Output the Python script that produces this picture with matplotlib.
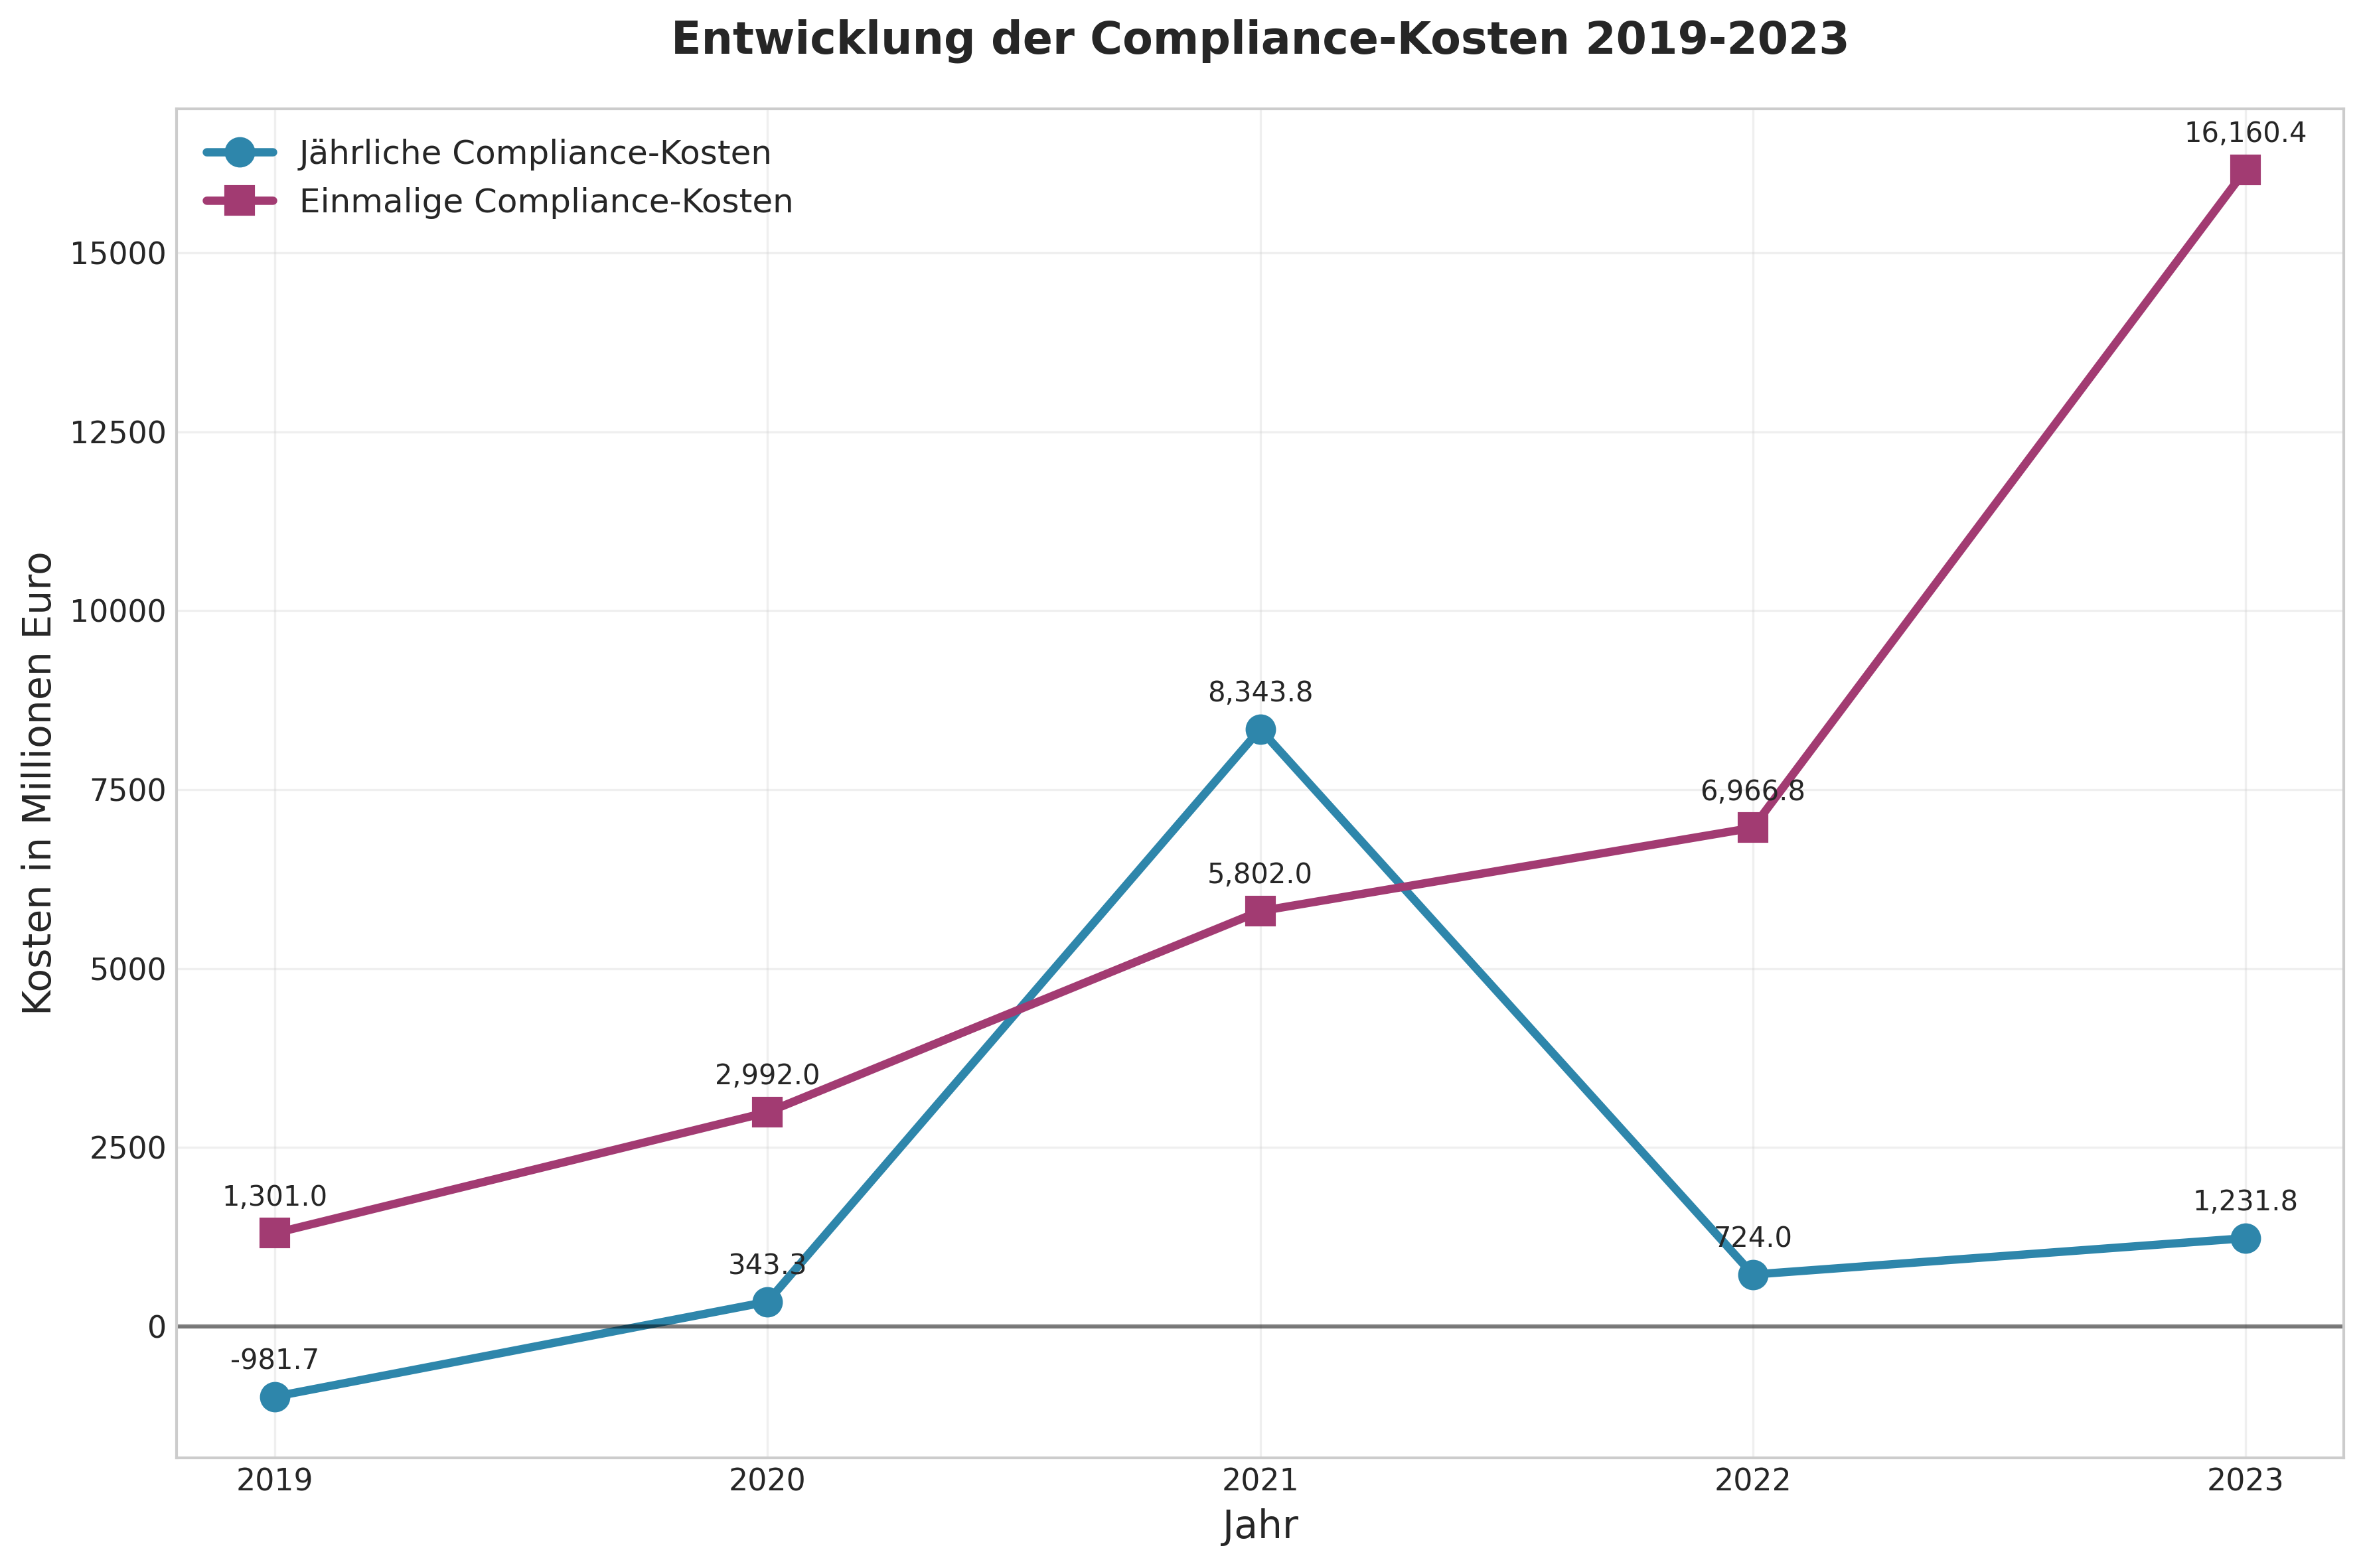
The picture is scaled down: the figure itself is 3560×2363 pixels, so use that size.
import numpy as np
import matplotlib
matplotlib.use('Agg')
from matplotlib import pyplot as plt

years = [2019, 2020, 2021, 2022, 2023]
jaehrlich = [-981.7, 343.3, 8343.8, 724.0, 1231.8]
einmalig = [1301.0, 2992.0, 5802.0, 6966.8, 16160.4]

plt.style.use('seaborn-v0_8-whitegrid')
plt.rcParams['font.family'] = ['DejaVu Sans']
fig, ax = plt.subplots(figsize=(3561/300, 2363/300), dpi=300)

ax.plot(years, jaehrlich, color='#2E86AB', marker='o', linewidth=3, markersize=10,
        label='Jährliche Compliance-Kosten')
ax.plot(years, einmalig, color='#A23B72', marker='s', linewidth=3, markersize=10,
        label='Einmalige Compliance-Kosten')

for x, y in zip(years, jaehrlich):
    ax.annotate(f'{y:,.1f}', (x, y), textcoords='offset points', xytext=(0, 10),
                ha='center', fontsize=10)
for x, y in zip(years, einmalig):
    ax.annotate(f'{y:,.1f}', (x, y), textcoords='offset points', xytext=(0, 10),
                ha='center', fontsize=10)

ax.axhline(0, color='black', linewidth=1.5, alpha=0.5)

ax.set_title('Entwicklung der Compliance-Kosten 2019-2023', fontsize=16,
             fontweight='bold', pad=20)
ax.set_xlabel('Jahr', fontsize=14)
ax.set_ylabel('Kosten in Millionen Euro', fontsize=14)
ax.set_xticks(years)
ax.tick_params(labelsize=11)
ax.grid(True, alpha=0.3)
for s in ax.spines.values():
    s.set_visible(True)
    s.set_color('#cccccc')
ax.legend(loc='upper left', fontsize=12)

plt.subplots_adjust(left=0.0746, right=0.9917, top=0.9308, bottom=0.0702)
plt.savefig('out.png', dpi=300)
